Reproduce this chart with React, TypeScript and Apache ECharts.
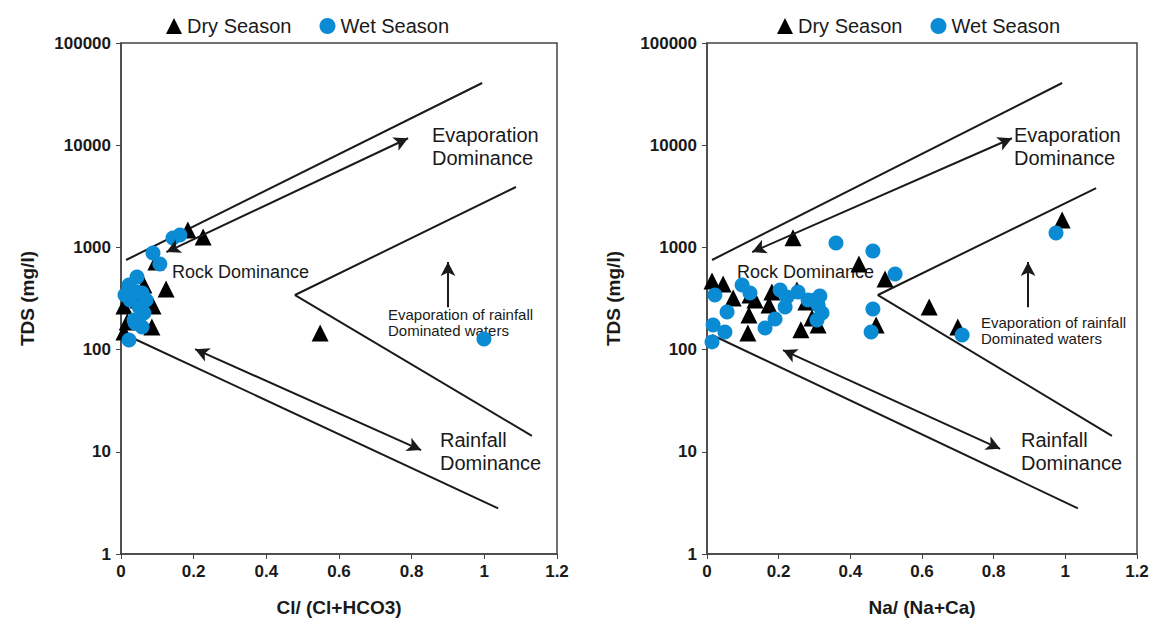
import React, { useEffect, useRef } from "react";
import * as echarts from "echarts";

// ---- Data ----
const xTicks = [0, 0.2, 0.4, 0.6, 0.8, 1, 1.2];
const yTicks = [1, 10, 100, 1000, 10000, 100000];

// Left panel: Cl/(Cl+HCO3) vs TDS
const leftDry: number[][] = [
  [0.184, 1480], [0.226, 1265], [0.096, 720], [0.124, 392], [0.063, 428],
  [0.008, 267], [0.088, 267], [0.017, 186], [0.085, 166], [0.008, 149],
  [0.052, 204], [0.548, 145], [0.047, 305], [0.025, 383],
];
const leftWet: number[][] = [
  [0.143, 1236], [0.162, 1322], [0.088, 881], [0.107, 688], [0.044, 513],
  [0.022, 428], [0.044, 366], [0.058, 358], [0.025, 305], [0.05, 261],
  [0.063, 228], [0.036, 195], [0.058, 166], [0.039, 182], [0.022, 124],
  [0.011, 342], [0.069, 305], [0.999, 127],
];

// Right panel: Na/(Na+Ca) vs TDS
const rightDry: number[][] = [
  [0.24, 1240], [0.424, 688], [0.497, 491], [0.62, 261], [0.472, 174],
  [0.7, 166], [0.991, 1854], [0.014, 469], [0.045, 438], [0.073, 320],
  [0.12, 342], [0.134, 305], [0.117, 218], [0.114, 145], [0.181, 366],
  [0.173, 273], [0.251, 383], [0.276, 292], [0.293, 204], [0.262, 156],
  [0.31, 174],
];
const rightWet: number[][] = [
  [0.36, 1104], [0.463, 922], [0.525, 550], [0.463, 249], [0.458, 149],
  [0.712, 139], [0.974, 1383], [0.022, 342], [0.098, 428], [0.12, 358],
  [0.056, 233], [0.017, 174], [0.05, 149], [0.014, 119], [0.162, 163],
  [0.19, 199], [0.204, 383], [0.223, 327], [0.218, 261], [0.254, 366],
  [0.282, 305], [0.301, 305], [0.31, 273], [0.321, 228], [0.307, 195],
  [0.315, 334],
];

// Gibbs boundary lines
const leftUpper = [[0.014, 753], [0.994, 40600]];
const leftLower = [[0.014, 139], [1.038, 2.8]];
const leftV = [[1.087, 3900], [0.479, 342], [1.131, 14.3]];
const leftEvapArrow = [[0.125, 900], [0.79, 11700]];
const leftRainArrow = [[0.204, 101], [0.826, 10.4]];
const leftUpArrow = [[0.9, 260], [0.9, 720]];

const rightUpper = [[0.014, 753], [0.991, 40600]];
const rightLower = [[0.014, 139], [1.035, 2.8]];
const rightV = [[1.086, 3800], [0.477, 342], [1.13, 14.3]];
const rightEvapArrow = [[0.126, 900], [0.851, 11700]];
const rightRainArrow = [[0.212, 99], [0.818, 10.7]];
const rightUpArrow = [[0.896, 260], [0.896, 720]];

const FONT = "Liberation Sans, Arial, sans-serif";
const BLUE = "#0a8bd3";
const INK = "#1a1a1a";

function xAxis(gridIndex: number, name: string) {
  return {
    type: "value",
    gridIndex,
    min: xTicks[0],
    max: xTicks[xTicks.length - 1],
    interval: 0.2,
    name,
    nameLocation: "middle",
    nameGap: 44,
    nameTextStyle: { fontFamily: FONT, fontSize: 19, fontWeight: "bold", color: INK },
    axisLine: { show: true, lineStyle: { color: "#444", width: 1.5 } },
    axisTick: { show: true, length: 5, lineStyle: { color: "#444" } },
    axisLabel: {
      fontFamily: FONT, fontSize: 17, fontWeight: "bold", color: INK, margin: 9,
      formatter: (v: number) => String(Math.round(v * 10) / 10),
    },
    splitLine: { show: false },
  };
}

function yAxis(gridIndex: number) {
  return {
    type: "log",
    logBase: 10,
    gridIndex,
    min: yTicks[0],
    max: yTicks[yTicks.length - 1],
    name: "TDS (mg/l)",
    nameLocation: "middle",
    nameGap: 84,
    nameTextStyle: { fontFamily: FONT, fontSize: 19, fontWeight: "bold", color: INK },
    axisLine: { show: true, lineStyle: { color: "#444", width: 1.5 } },
    axisTick: { show: true, length: 5, lineStyle: { color: "#444" } },
    axisLabel: {
      fontFamily: FONT, fontSize: 17, fontWeight: "bold", color: INK, margin: 10,
      formatter: (v: number) => String(Math.round(v)),
    },
    splitLine: { show: false },
    minorTick: { show: false },
  };
}

function boundary(idx: number, data: number[][]) {
  return {
    type: "line",
    xAxisIndex: idx,
    yAxisIndex: idx,
    data,
    symbol: "none",
    silent: true,
    lineStyle: { color: INK, width: 2 },
    z: 1,
  };
}

function arrows(idx: number, two: number[][][], one: number[][]) {
  return {
    type: "line",
    xAxisIndex: idx,
    yAxisIndex: idx,
    data: [],
    silent: true,
    z: 1,
    markLine: {
      silent: true,
      animation: false,
      symbolSize: [11, 14],
      label: { show: false },
      lineStyle: { color: INK, width: 2, type: "solid" },
      data: [
        ...two.map((seg) => [
          { coord: seg[0], symbol: "arrow" },
          { coord: seg[1], symbol: "arrow" },
        ]),
        [
          { coord: one[0], symbol: "none" },
          { coord: one[1], symbol: "arrow" },
        ],
      ],
    },
  };
}

function scatter(idx: number, name: string, data: number[][], dry: boolean) {
  return {
    type: "scatter",
    name,
    xAxisIndex: idx,
    yAxisIndex: idx,
    data,
    symbol: dry ? "triangle" : "circle",
    symbolSize: dry ? 17 : 15,
    itemStyle: { color: dry ? "#000" : BLUE, opacity: 1 },
    z: dry ? 3 : 4,
  };
}

function txt(left: number, top: number, text: string, size: number, lh: number) {
  return {
    type: "text",
    left,
    top,
    silent: true,
    style: { text, fill: INK, font: `${size}px ${FONT}`, lineHeight: lh },
  };
}

export default function App() {
  const ref = useRef<HTMLDivElement>(null);
  useEffect(() => {
    if (!ref.current) return;
    const chart = echarts.init(ref.current, null, { renderer: "svg" });
    const legendBase = {
      top: 11,
      itemWidth: 16,
      itemHeight: 16,
      itemGap: 28,
      textStyle: { fontFamily: FONT, fontSize: 20, color: INK },
      data: ["Dry Season", "Wet Season"],
      selectedMode: false,
    };
    chart.setOption({
      animation: false,
      backgroundColor: "#fff",
      legend: [
        { ...legendBase, left: 161 },
        { ...legendBase, left: 772 },
      ],
      grid: [
        { left: 121, top: 43, width: 436, height: 511, show: true, borderColor: "#444", borderWidth: 1.5 },
        { left: 707, top: 43, width: 430, height: 511, show: true, borderColor: "#444", borderWidth: 1.5 },
      ],
      xAxis: [xAxis(0, "Cl/ (Cl+HCO3)"), xAxis(1, "Na/ (Na+Ca)")],
      yAxis: [yAxis(0), yAxis(1)],
      series: [
        boundary(0, leftUpper),
        boundary(0, leftLower),
        boundary(0, leftV),
        arrows(0, [leftEvapArrow, leftRainArrow], leftUpArrow),
        boundary(1, rightUpper),
        boundary(1, rightLower),
        boundary(1, rightV),
        arrows(1, [rightEvapArrow, rightRainArrow], rightUpArrow),
        scatter(0, "Dry Season", leftDry, true),
        scatter(0, "Wet Season", leftWet, false),
        scatter(1, "Dry Season", rightDry, true),
        scatter(1, "Wet Season", rightWet, false),
      ],
      graphic: [
        txt(432, 123, "Evaporation\nDominance", 20, 23),
        txt(172, 262, "Rock Dominance", 18, 20),
        txt(440, 428, "Rainfall\nDominance", 20, 23),
        txt(388, 306, "Evaporation of rainfall\nDominated waters", 15, 16),
        txt(1014, 123, "Evaporation\nDominance", 20, 23),
        txt(737, 262, "Rock Dominance", 18, 20),
        txt(1021, 428, "Rainfall\nDominance", 20, 23),
        txt(981, 314, "Evaporation of rainfall\nDominated waters", 15, 16),
      ],
    });
    return () => chart.dispose();
  }, []);
  return (
    <div
      ref={ref}
      style={{ position: "fixed", left: 0, top: 0, width: 1153, height: 624, background: "#fff" }}
    />
  );
}
